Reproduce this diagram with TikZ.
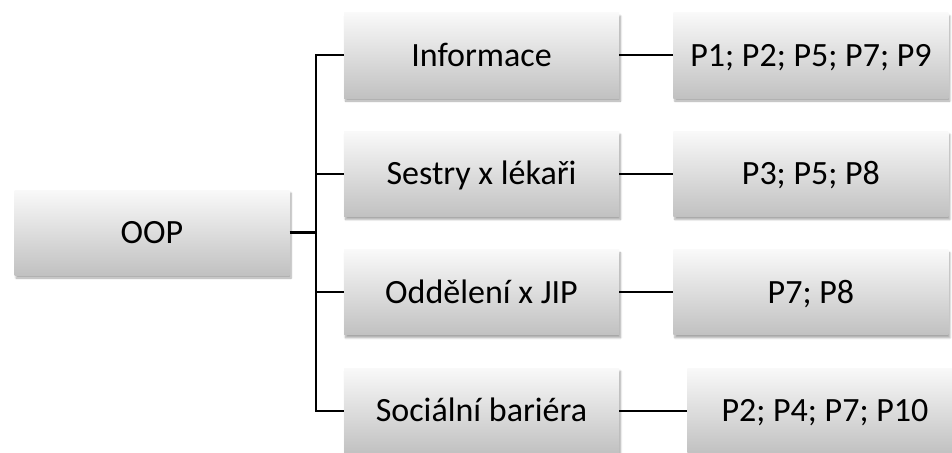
\documentclass[tikz,border=0pt]{standalone}
\usepackage{fontspec}
\setmainfont{Carlito}
\usetikzlibrary{positioning,shadows.blur}

\tikzset{
  boxnode/.style = {minimum width=275pt, minimum height=85pt, inner sep=0pt,
                    text height=26pt, text depth=4pt,
                    top color={rgb,255:red,249;green,249;blue,249},
                    bottom color={rgb,255:red,193;green,193;blue,193},
                    blur shadow={shadow xshift=1.5pt, shadow yshift=-3pt,
                                 shadow blur steps=6, shadow opacity=35},
                    font=\fontsize{34}{40}\selectfont},
  linkline/.style = {line width=2pt, black},
}

\begin{document}
\begin{tikzpicture}[x=1pt, y=1pt]
  \useasboundingbox (0,0) rectangle (952,-452);

  \node[boxnode] (oop) at (152,-232.5) {OOP};

  \node[boxnode] (inf) at (481.5,-55.5) {Informace};
  \node[boxnode, below=33pt of inf] (ses) {Sestry x lékaři};
  \node[boxnode, below=33pt of ses] (odd) {Oddělení x JIP};
  \node[boxnode, below=33pt of odd] (soc) {Sociální bariéra};

  \node[boxnode, right=54pt of inf] (pinf) {P1; P2; P5; P7; P9};
  \node[boxnode, right=54pt of ses] (pses) {P3; P5; P8};
  \node[boxnode, right=54pt of odd] (podd) {P7; P8};
  \node[boxnode, right=68pt of soc] (psoc) {P2; P4; P7; P10};

  % fork from OOP to the four topics
  \draw[linkline, line width=3pt] (oop.east) -- ++(26pt,0) coordinate (fork);
  \foreach \n in {inf,ses,odd,soc}
    \draw[linkline] (fork) |- (\n.west);

  % topics to participants
  \draw[linkline] (inf) -- (pinf);
  \draw[linkline] (ses) -- (pses);
  \draw[linkline] (odd) -- (podd);
  \draw[linkline] (soc) -- (psoc);
\end{tikzpicture}
\end{document}
